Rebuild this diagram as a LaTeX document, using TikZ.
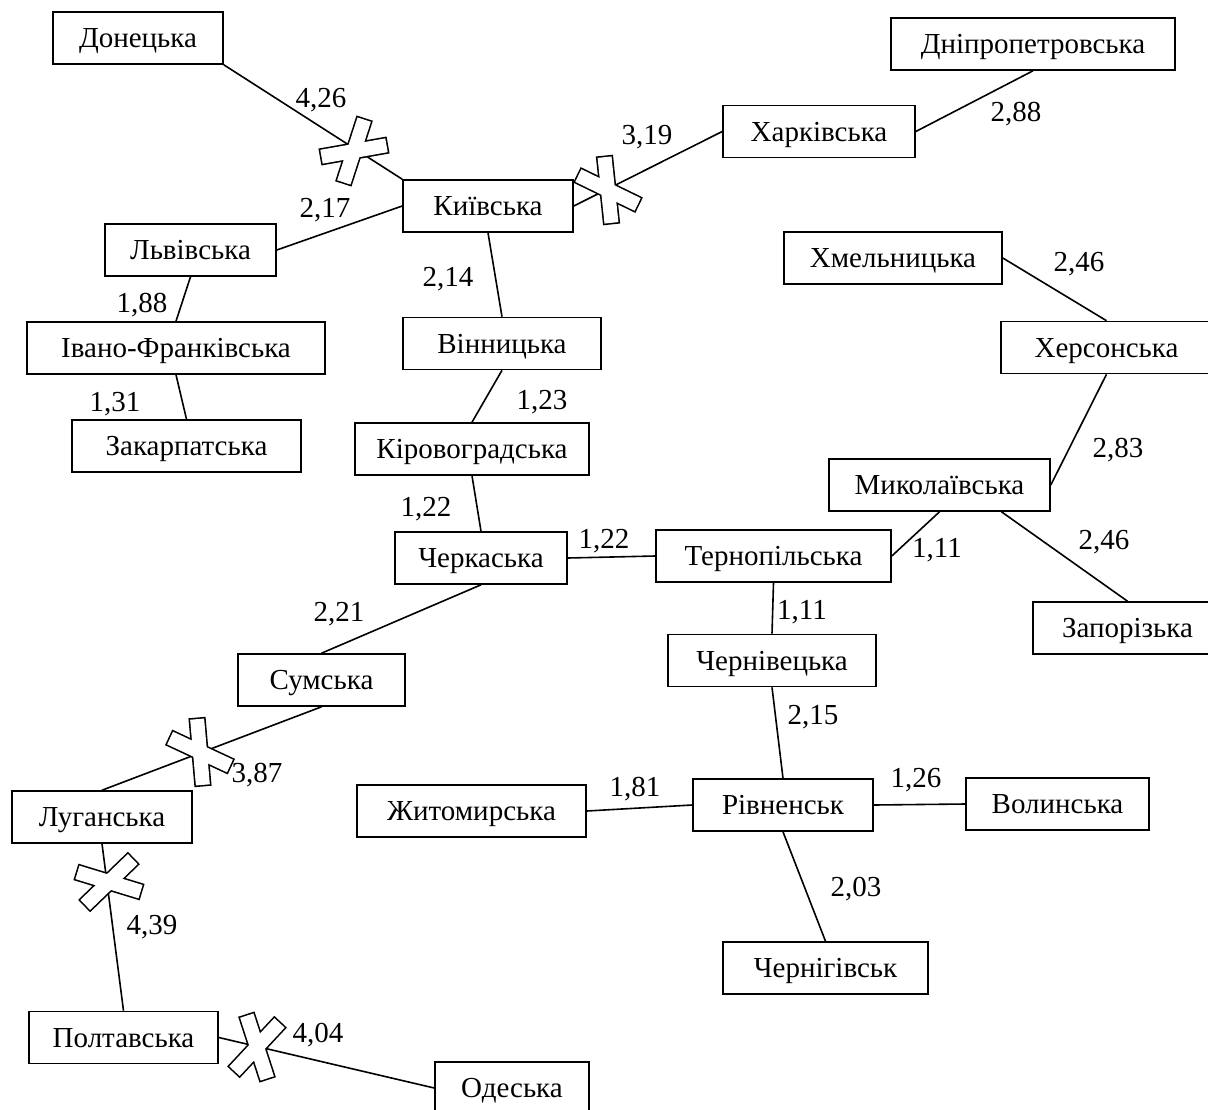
\documentclass[tikz,border=0pt]{standalone}
\usepackage{fontspec}
\setmainfont{Liberation Serif}

\tikzset{
  pics/cutmark/.style n args={2}{code={
    \draw[line width=3.2pt, rotate=#1] (-33,-7) rectangle (33,7);
    \draw[line width=3.2pt, rotate=#2] (-33,-7) rectangle (33,7);
    \fill[white, rotate=#1] (-33,-7) rectangle (33,7);
    \fill[white, rotate=#2] (-33,-7) rectangle (33,7);
  }}
}

\begin{document}
\begin{tikzpicture}[x=1pt, y=-1pt, font=\fontsize{29}{34}\selectfont,
    region/.style={draw, line width=1.6pt, minimum height=52pt, inner sep=0pt, text height=19pt, text depth=0pt},
    link/.style={line width=1.6pt},
    wlabel/.style={inner sep=0pt, text height=19pt, text depth=0pt}]

    \useasboundingbox (0,0) rectangle (1208,1109);

    % Regions
    \node[region, minimum width=170pt] (don) at (138,38) {Донецька};
    \node[region, minimum width=284pt] (dnipro) at (1033,44) {Дніпропетровська};
    \node[region, minimum width=192pt] (khark) at (819,131.5) {Харківська};
    \node[region, minimum width=170pt] (kyiv) at (488,206) {Київська};
    \node[region, minimum width=171pt] (lviv) at (190.5,250) {Львівська};
    \node[region, minimum width=218pt] (khmel) at (893,258) {Хмельницька};
    \node[region, minimum width=298pt] (ivano) at (176,348) {Івано-Франківська\hspace{24pt}};
    \node[region, minimum width=198pt] (vinn) at (502,343.5) {Вінницька};
    \node[region, minimum width=211pt] (kherson) at (1106.5,347.5) {Херсонська\hspace{8pt}};
    \node[region, minimum width=229pt] (zakarp) at (186.5,446) {Закарпатська};
    \node[region, minimum width=234pt] (kirovo) at (472,449) {Кіровоградська};
    \node[region, minimum width=221pt] (mykol) at (939.5,485) {Миколаївська};
    \node[region, minimum width=172pt] (cherk) at (481,558) {Черкаська};
    \node[region, minimum width=235pt] (ternop) at (773.5,556) {Тернопільська};
    \node[region, minimum width=189pt] (zapor) at (1127.5,628) {Запорізька};
    \node[region, minimum width=208pt] (cherniv) at (772,660.5) {Чернівецька};
    \node[region, minimum width=167pt] (sumy) at (321.5,680) {Сумська};
    \node[region, minimum width=180pt] (luhansk) at (102,817) {Луганська};
    \node[region, minimum width=229pt] (zhyt) at (471.5,811) {Житомирська};
    \node[region, minimum width=180pt] (rivne) at (783,805) {Рівненськ};
    \node[region, minimum width=183pt] (volyn) at (1057.5,804) {Волинська};
    \node[region, minimum width=205pt] (chernih) at (825.5,968) {Чернігівськ};
    \node[region, minimum width=189pt] (poltava) at (123.5,1037.5) {Полтавська};
    \node[region, minimum width=154pt] (odesa) at (512,1088) {Одеська};

    % Links
    \draw[link] (don.south east) -- (kyiv.north west);
    \draw[link] (kyiv.east) -- (khark.west);
    \draw[link] (khark.east) -- (dnipro.south);
    \draw[link] (kyiv.west) -- (lviv.east);
    \draw[link] (kyiv.south) -- (vinn.north);
    \draw[link] (lviv.south) -- (ivano.north);
    \draw[link] (ivano.south) -- (zakarp.north);
    \draw[link] (vinn.south) -- (kirovo.north);
    \draw[link] (kirovo.south) -- (cherk.north);
    \draw[link] (cherk.east) -- (ternop.west);
    \draw[link] (cherk.south) -- (sumy.north);
    \draw[link] (sumy.south) -- (luhansk.north);
    \draw[link] (luhansk.south) -- (poltava.north);
    \draw[link] (poltava.east) -- (odesa.west);
    \draw[link] (khmel.east) -- (kherson.north);
    \draw[link] (kherson.south) -- (mykol.east);
    \draw[link] (mykol.south) -- (ternop.east);
    \draw[link] ([xshift=62pt]mykol.south) -- (zapor.north);
    \draw[link] (ternop.south) -- (cherniv.north);
    \draw[link] (cherniv.south) -- (rivne.north);
    \draw[link] (zhyt.east) -- (rivne.west);
    \draw[link] (rivne.east) -- (volyn.west);
    \draw[link] (rivne.south) -- (chernih.north);

    % Cut links
    \pic at (354,151) {cutmark={72}{10}};
    \pic at (608,190) {cutmark={96}{-26}};
    \pic at (200,752) {cutmark={95}{-25}};
    \pic at (109,882) {cutmark={44}{-17}};
    \pic at (257,1047) {cutmark={108}{47}};

    % Weights
    \node[wlabel] (w-dk) at (321,98) {4,26};
    \node[wlabel] (w-lk) at (325,208) {2,17};
    \node[wlabel] (w-kh) at (647,135) {3,19};
    \node[wlabel] (w-hd) at (1016,112) {2,88};
    \node[wlabel] (w-hk) at (1079,262) {2,46};
    \node[wlabel] (w-kv) at (448,277) {2,14};
    \node[wlabel] (w-li) at (142,303) {1,88};
    \node[wlabel] (w-iz) at (115,402) {1,31};
    \node[wlabel] (w-vk) at (542,400) {1,23};
    \node[wlabel] (w-km) at (1118,448) {2,83};
    \node[wlabel] (w-kc) at (426,507) {1,22};
    \node[wlabel] (w-ct) at (604,539) {1,22};
    \node[wlabel] (w-mt) at (937,548) {1,11};
    \node[wlabel] (w-mz) at (1104,540) {2,46};
    \node[wlabel] (w-tc) at (802,610) {1,11};
    \node[wlabel] (w-cs) at (339,612) {2,21};
    \node[wlabel] (w-cr) at (813,715) {2,15};
    \node[wlabel] (w-sl) at (257,773) {3,87};
    \node[wlabel] (w-zr) at (635,787) {1,81};
    \node[wlabel] (w-rv) at (916,778) {1,26};
    \node[wlabel] (w-rc) at (856,887) {2,03};
    \node[wlabel] (w-lp) at (152,925) {4,39};
    \node[wlabel] (w-po) at (318,1033) {4,04};

\end{tikzpicture}
\end{document}
